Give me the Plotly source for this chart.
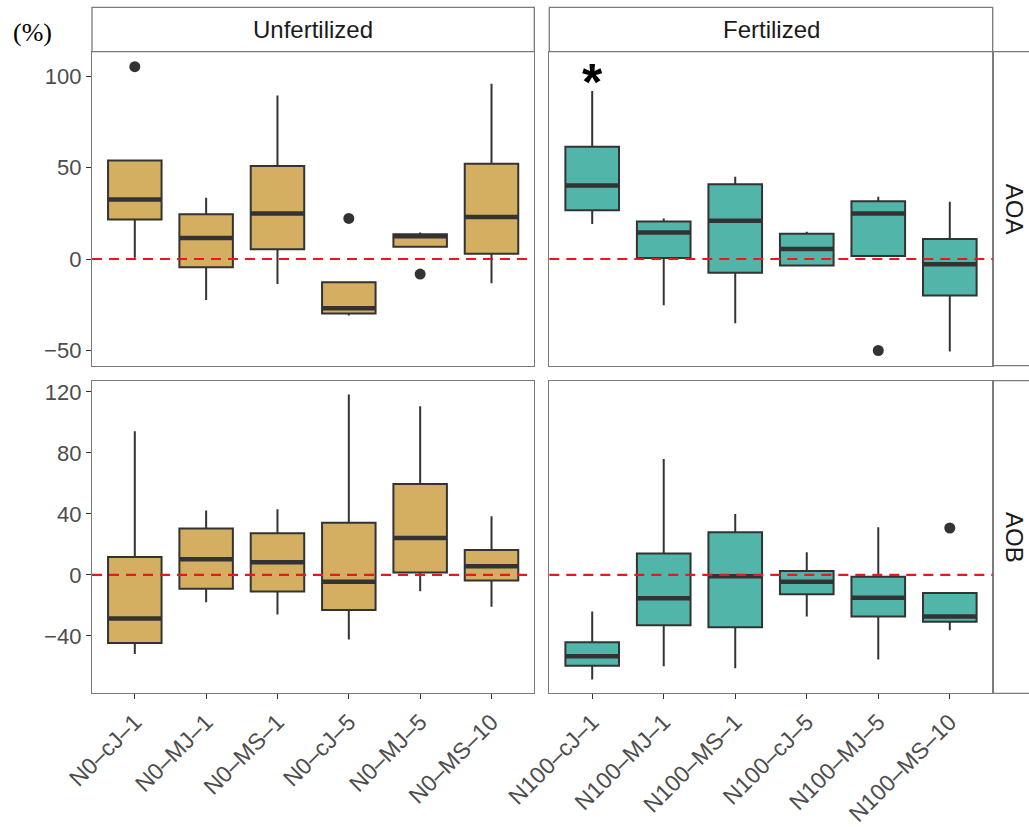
import plotly.graph_objects as go

# ---- categories -------------------------------------------------------------
unfert_labels = ["N0–cJ–1", "N0–MJ–1", "N0–MS–1", "N0–cJ–5", "N0–MJ–5", "N0–MS–10"]
fert_labels = ["N100–cJ–1", "N100–MJ–1", "N100–MS–1", "N100–cJ–5", "N100–MJ–5", "N100–MS–10"]

# ---- AOA, unfertilized (box statistics, %) ----------------------------------
aoa_u_low = [0.7, -22.4, -13.6, -30.9, 6.7, -13.3]
aoa_u_q1 = [21.6, -4.5, 5.3, -29.8, 6.7, 2.9]
aoa_u_med = [32.5, 11.5, 24.9, -26.9, 12.4, 22.9]
aoa_u_q3 = [53.8, 24.5, 50.9, -12.7, 13.5, 52.0]
aoa_u_high = [53.8, 33.5, 89.3, -12.7, 14.5, 95.8]
aoa_u_out_idx = [0, 3, 4]
aoa_u_out_val = [105.1, 22.2, -8.2]

# ---- AOA, fertilized --------------------------------------------------------
aoa_f_low = [19.1, -25.3, -35.1, -3.5, 1.6, -50.5]
aoa_f_q1 = [26.7, 0.5, -7.5, -3.5, 1.6, -20.0]
aoa_f_med = [40.2, 14.5, 20.9, 5.5, 24.9, -2.9]
aoa_f_q3 = [61.3, 20.5, 40.9, 13.8, 31.6, 10.9]
aoa_f_high = [91.8, 22.2, 44.9, 14.9, 34.0, 31.3]
aoa_f_out_idx = [4]
aoa_f_out_val = [-50.0]
aoa_f_sig_idx = 0
aoa_f_sig_val = 100.5

# ---- AOB, unfertilized ------------------------------------------------------
aob_u_low = [-51.8, -17.9, -26.0, -42.4, -10.7, -20.8]
aob_u_q1 = [-44.6, -9.0, -10.9, -23.0, 1.7, -3.7]
aob_u_med = [-28.6, 10.3, 8.3, -4.4, 24.3, 5.7]
aob_u_q3 = [11.8, 30.4, 27.3, 34.3, 59.7, 16.4]
aob_u_high = [94.2, 42.2, 43.1, 118.3, 110.6, 38.5]
aob_u_out_idx = []
aob_u_out_val = []

# ---- AOB, fertilized --------------------------------------------------------
aob_f_low = [-68.6, -59.9, -61.2, -27.3, -55.5, -36.3]
aob_f_q1 = [-59.5, -33.0, -34.3, -12.7, -27.3, -30.6]
aob_f_med = [-53.3, -15.3, -0.9, -4.4, -14.9, -27.3]
aob_f_q3 = [-44.2, 14.0, 28.0, 2.6, -1.1, -11.8]
aob_f_high = [-24.0, 76.1, 40.0, 14.9, 31.3, -11.8]
aob_f_out_idx = [5]
aob_f_out_val = [30.8]

aoa_ticks = [-50, 0, 50, 100]
aob_ticks = [-40, 0, 40, 80, 120]

# ---- style ------------------------------------------------------------------
W, H = 1029, 827
TAN = "#D4AF62"
TEAL = "#52B5A9"
INK = "#333333"
BORDER = "#7A7A7A"
FONT = "Liberation Sans, Arial, sans-serif"
SERIF = "Times New Roman, Liberation Serif, DejaVu Serif, serif"
BOX_W = 0.75
positions = list(range(6))


def px_x(v):
    return v / W


def px_y(v):
    return 1 - v / H


# panel geometry (pixels)
left_x = (92, 534.3)
right_x = (549.3, 992.7)
top_y = (51.7, 365.7)
bot_y = (380.7, 693.3)
strip_top = 7.3

fig = go.Figure()


def add_panel(xa, ya, low, q1, med, q3, high, out_idx, out_val, color):
    fig.add_trace(go.Box(
        x=positions, lowerfence=low, q1=q1, median=med, q3=q3, upperfence=high,
        width=BOX_W, whiskerwidth=0, fillcolor=color,
        line=dict(color=INK, width=2), boxpoints=False,
        xaxis=xa, yaxis=ya, showlegend=False, hoverinfo="skip",
    ))
    # thicker median bar
    mx, my = [], []
    for p, m in zip(positions, med):
        mx += [p - BOX_W / 2, p + BOX_W / 2, None]
        my += [m, m, None]
    fig.add_trace(go.Scatter(
        x=mx, y=my, mode="lines", line=dict(color=INK, width=4.5),
        xaxis=xa, yaxis=ya, showlegend=False, hoverinfo="skip",
    ))
    if out_idx:
        fig.add_trace(go.Scatter(
            x=out_idx, y=out_val, mode="markers",
            marker=dict(color=INK, size=11, line=dict(width=0)),
            xaxis=xa, yaxis=ya, showlegend=False, hoverinfo="skip",
        ))


add_panel("x3", "y3", aoa_u_low, aoa_u_q1, aoa_u_med, aoa_u_q3, aoa_u_high,
          aoa_u_out_idx, aoa_u_out_val, TAN)
add_panel("x4", "y4", aoa_f_low, aoa_f_q1, aoa_f_med, aoa_f_q3, aoa_f_high,
          aoa_f_out_idx, aoa_f_out_val, TEAL)
add_panel("x", "y", aob_u_low, aob_u_q1, aob_u_med, aob_u_q3, aob_u_high,
          aob_u_out_idx, aob_u_out_val, TAN)
add_panel("x2", "y2", aob_f_low, aob_f_q1, aob_f_med, aob_f_q3, aob_f_high,
          aob_f_out_idx, aob_f_out_val, TEAL)

xrange = [-0.6, 5.6]
aoa_range = [-58.3, 113.3]
aob_range = [-77.6, 127.4]

tick_font = dict(family=FONT, size=22, color="#4D4D4D")
xtick_font = dict(family=FONT, size=23, color="#4D4D4D")

common_x = dict(range=xrange, showgrid=False, zeroline=False, showline=True,
                mirror=True, linecolor=BORDER, linewidth=1.3, automargin=False,
                fixedrange=True)
common_y = dict(showgrid=False, zeroline=False, showline=True, mirror=True,
                linecolor=BORDER, linewidth=1.3, automargin=False, fixedrange=True)

dom_lx = [px_x(left_x[0]), px_x(left_x[1])]
dom_rx = [px_x(right_x[0]), px_x(right_x[1])]
dom_ty = [px_y(top_y[1]), px_y(top_y[0])]
dom_by = [px_y(bot_y[1]), px_y(bot_y[0])]

bottom_x_style = dict(tickmode="array", tickvals=positions, tickangle=-45,
                      ticks="outside", ticklen=5, tickwidth=1.3, tickcolor=INK,
                      tickfont=xtick_font)

fig.update_layout(
    width=W, height=H, autosize=False,
    margin=dict(l=0, r=0, t=0, b=0, pad=0),
    template="none",
    paper_bgcolor="white", plot_bgcolor="white",
    showlegend=False,
    xaxis=dict(domain=dom_lx, anchor="y", ticktext=unfert_labels,
               **bottom_x_style, **common_x),
    yaxis=dict(domain=dom_by, anchor="x", range=aob_range, tickmode="array",
               tickvals=aob_ticks, ticks="outside", ticklen=5, tickwidth=1.3,
               tickcolor=INK, tickfont=tick_font, **common_y),
    xaxis2=dict(domain=dom_rx, anchor="y2", ticktext=fert_labels,
                **bottom_x_style, **common_x),
    yaxis2=dict(domain=dom_by, anchor="x2", range=aob_range,
                showticklabels=False, ticks="", **common_y),
    xaxis3=dict(domain=dom_lx, anchor="y3", showticklabels=False, ticks="",
                **common_x),
    yaxis3=dict(domain=dom_ty, anchor="x3", range=aoa_range, tickmode="array",
                tickvals=aoa_ticks, ticks="outside", ticklen=5, tickwidth=1.3,
                tickcolor=INK, tickfont=tick_font, **common_y),
    xaxis4=dict(domain=dom_rx, anchor="y4", showticklabels=False, ticks="",
                **common_x),
    yaxis4=dict(domain=dom_ty, anchor="x4", range=aoa_range,
                showticklabels=False, ticks="", **common_y),
)

shapes = []
# zero reference line in every panel
for xa, ya in [("x", "y"), ("x2", "y2"), ("x3", "y3"), ("x4", "y4")]:
    shapes.append(dict(type="line", xref=f"{xa} domain", yref=ya,
                       x0=0, x1=1, y0=0, y1=0, layer="above",
                       line=dict(color="#E8191C", width=2.2, dash="10px,7px")))

# facet strips along the top
strip_y = [px_y(top_y[0]), px_y(strip_top)]
for dom in (dom_lx, dom_rx):
    shapes.append(dict(type="rect", xref="paper", yref="paper",
                       x0=dom[0], x1=dom[1], y0=strip_y[0], y1=strip_y[1],
                       fillcolor="white", line=dict(color=BORDER, width=1.3),
                       layer="below"))
# facet strips on the right
for dom in (dom_ty, dom_by):
    shapes.append(dict(type="rect", xref="paper", yref="paper",
                       x0=dom_rx[1], x1=1.06, y0=dom[0], y1=dom[1],
                       fillcolor="white", line=dict(color=BORDER, width=1.3),
                       layer="below"))

fig.update_layout(shapes=shapes)

strip_font = dict(family=FONT, size=24, color="#1A1A1A")
annotations = [
    dict(text="Unfertilized", xref="paper", yref="paper",
         x=(dom_lx[0] + dom_lx[1]) / 2, y=(strip_y[0] + strip_y[1]) / 2,
         showarrow=False, font=strip_font, xanchor="center", yanchor="middle"),
    dict(text="Fertilized", xref="paper", yref="paper",
         x=(dom_rx[0] + dom_rx[1]) / 2, y=(strip_y[0] + strip_y[1]) / 2,
         showarrow=False, font=strip_font, xanchor="center", yanchor="middle"),
    dict(text="AOA", xref="paper", yref="paper", x=px_x(1014),
         y=(dom_ty[0] + dom_ty[1]) / 2, textangle=90, showarrow=False,
         font=strip_font, xanchor="center", yanchor="middle"),
    dict(text="AOB", xref="paper", yref="paper", x=px_x(1014),
         y=(dom_by[0] + dom_by[1]) / 2, textangle=90, showarrow=False,
         font=strip_font, xanchor="center", yanchor="middle"),
    dict(text="(%)", xref="paper", yref="paper", x=px_x(32), y=px_y(32),
         showarrow=False, xanchor="center", yanchor="middle",
         font=dict(family=SERIF, size=26, color="black")),
    dict(text="<b>*</b>", xref="x4", yref="y4", x=aoa_f_sig_idx,
         y=aoa_f_sig_val, showarrow=False, xanchor="center", yanchor="middle",
         yshift=-7, font=dict(family=FONT, size=52, color="black")),
]
fig.update_layout(annotations=annotations)

fig.write_html("out.html")
